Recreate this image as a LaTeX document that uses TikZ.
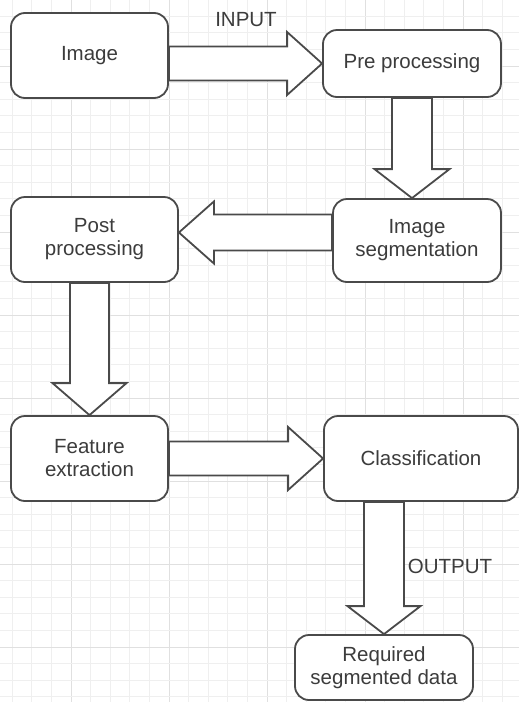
\documentclass[tikz,border=0pt]{standalone}
\usepackage{fontspec}
\setmainfont{Liberation Sans}
\usetikzlibrary{calc}
\definecolor{linec}{HTML}{4A4A4A}
\definecolor{textc}{HTML}{3C3C3C}
\definecolor{gridminor}{HTML}{EFEFEF}
\definecolor{gridmajor}{HTML}{E0E0E0}
\tikzset{
  box/.style={draw=linec, line width=1.8pt, rounded corners=14pt, fill=white,
    inner sep=0pt, align=center, text=textc, font=\fontsize{20.5}{23}\selectfont},
  lbl/.style={text=textc, font=\fontsize{20.5}{23}\selectfont, inner sep=0pt},
  blockarrow/.style n args={3}{draw=linec, line width=1.8pt, fill=white, line join=miter,
    to path={
      ($(\tikztostart)!#1!90:(\tikztotarget)$)
      -- ($(\tikztotarget)!#3!(\tikztostart)!#1!90:(\tikztotarget)$)
      -- ($(\tikztotarget)!#3!(\tikztostart)!#2!90:(\tikztotarget)$)
      -- (\tikztotarget)
      -- ($(\tikztotarget)!#3!(\tikztostart)!#2!-90:(\tikztotarget)$)
      -- ($(\tikztotarget)!#3!(\tikztostart)!#1!-90:(\tikztotarget)$)
      -- ($(\tikztostart)!#1!-90:(\tikztotarget)$)
      -- cycle
    }}
}
\begin{document}
\begin{tikzpicture}[x=1pt,y=-1pt]
\useasboundingbox (0,0) rectangle (519,702);
\fill[white] (0,0) rectangle (519,702);
% grid
\foreach \i in {0,...,26}{
  \pgfmathtruncatemacro{\m}{mod(\i,5)}
  \ifnum\m=3
    \draw[gridmajor, line width=0.9pt] ({12.2+19.6*\i},0) -- ({12.2+19.6*\i},702);
  \else
    \draw[gridminor, line width=0.8pt] ({12.2+19.6*\i},0) -- ({12.2+19.6*\i},702);
  \fi
}
\foreach \j in {0,...,42}{
  \pgfmathtruncatemacro{\m}{mod(\j,5)}
  \ifnum\m=3
    \draw[gridmajor, line width=0.9pt] (0,{16.2+16.6*\j}) -- (519,{16.2+16.6*\j});
  \else
    \draw[gridminor, line width=0.8pt] (0,{16.2+16.6*\j}) -- (519,{16.2+16.6*\j});
  \fi
}
% boxes
\node[box, minimum width=157pt, minimum height=85pt] (img)  at (89.5,55.5)  {Image};
\node[box, minimum width=178pt, minimum height=67pt] (pre)  at (412,63.5)   {Pre processing};
\node[box, minimum width=168pt, minimum height=83pt] (seg)  at (417,240.5)  {Image\\segmentation};
\node[box, minimum width=167pt, minimum height=85pt] (post) at (94.5,239.5) {Post\\processing};
\node[box, minimum width=157pt, minimum height=85pt] (feat) at (89.5,458.5) {Feature\\extraction};
\node[box, minimum width=194pt, minimum height=85pt] (cls)  at (421,458.5)  {Classification};
\node[box, minimum width=178pt, minimum height=65pt] (req)  at (384,667.5)  {Required\\segmented data};
% labels
\node[lbl] (inlbl)  at (246,20)  {INPUT};
\node[lbl] (outlbl) at (450,566) {OUTPUT};
% arrow anchors
\coordinate (s1) at (img.east |- pre.west);
\coordinate (s2) at (pre.south);
\coordinate (t2) at (pre.south |- seg.north);
\coordinate (s3) at ([yshift=8pt]seg.west);
\coordinate (t3) at (s3 -| post.east);
\coordinate (s4) at (feat.north |- post.south);
\coordinate (s6) at (req.north |- cls.south);
% block arrows
\draw[blockarrow={17pt}{31.5pt}{35pt}] (s1) to (pre.west);
\draw[blockarrow={20pt}{37.5pt}{29pt}] (s2) to (t2);
\draw[blockarrow={18pt}{31pt}{35pt}] (s3) to (t3);
\draw[blockarrow={19.5pt}{37pt}{32pt}] (s4) to (feat.north);
\draw[blockarrow={17pt}{31.5pt}{35pt}] (feat.east) to (cls.west);
\draw[blockarrow={20pt}{36.5pt}{28pt}] (s6) to (req.north);
\end{tikzpicture}
\end{document}
